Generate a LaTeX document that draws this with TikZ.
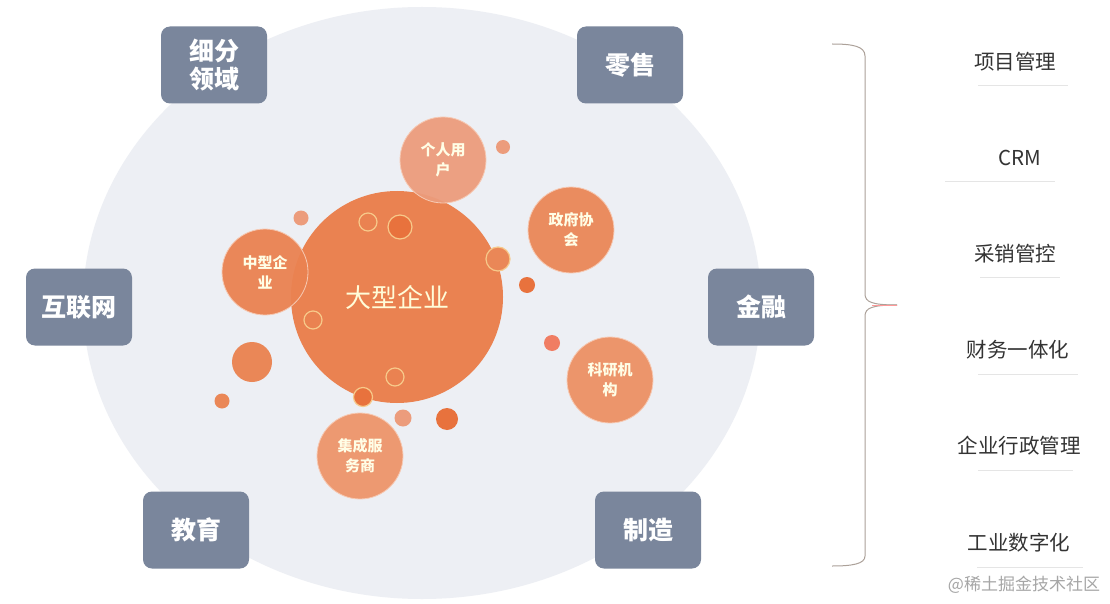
\documentclass[tikz,border=0pt]{standalone}
\usepackage{fontspec}
\setmainfont{Noto Sans CJK SC}
\usetikzlibrary{positioning}
\definecolor{boxgray}{HTML}{7A869C}
\definecolor{bgblue}{HTML}{EDEFF4}
\definecolor{bigorange}{HTML}{EA8251}
\definecolor{midorange}{HTML}{EA8757}
\definecolor{paleorange}{HTML}{EC9C7C}
\definecolor{darkorange}{HTML}{E8723D}
\definecolor{ringyellow}{HTML}{F7C98A}
\definecolor{bracecol}{HTML}{ACA199}
\definecolor{itemtext}{HTML}{333333}
\begin{document}
\begin{tikzpicture}[x=1pt,y=-1pt,
  sector/.style={rectangle, rounded corners=9pt, fill=boxgray, minimum width=106pt, minimum height=77pt, text=white, align=center, font=\bfseries\fontsize{25}{28}\selectfont},
  bubble/.style={circle, draw=white!55!midorange, line width=0.8pt, inner sep=0pt, minimum size=86pt, fill=midorange, fill opacity=0.95, text opacity=1, text=white!90!yellow, align=center, font=\bfseries\fontsize{15}{20}\selectfont},
  dot/.style={circle, inner sep=0pt, fill=midorange},
  ring/.style={circle, inner sep=0pt, fill=bigorange, draw=ringyellow, line width=1.2pt},
  item/.style={text=itemtext, font=\fontsize{20.5}{24}\selectfont},
  itemline/.style={draw=black!10, line width=0.8pt}]
\fill[white] (0,0) rectangle (1110,604);
\useasboundingbox (0,0) rectangle (1110,604);
% background
\fill[bgblue] (422,303) ellipse [x radius=339pt, y radius=296pt];
% sectors
\node[sector] (xifen) at (214,65) {细分\\领域};
\node[sector] (lingshou) at (630,65) {零售};
\node[sector] (hulianwang) at (79,307) {互联网};
\node[sector] (jinrong) at (761,307) {金融};
\node[sector] (jiaoyu) at (196,530) {教育};
\node[sector] (zhizao) at (648,530) {制造};
% bubbles
\node[dot, fill=bigorange, minimum size=212pt, text=white!85!yellow, font=\fontsize{26}{30}\selectfont] (daxing) at (397,297) {大型企业};
\node[bubble, fill=bigorange] (zhongxing) at (265,272) {中型企\\业};
\node[bubble, fill=paleorange] (geren) at (443,160) {个人用\\户};
\node[bubble] (zhengfu) at (571,230) {政府协\\会};
\node[bubble, fill=midorange!92!white] (keyan) at (610,380) {科研机\\构};
\node[bubble, fill=midorange!88!white] (jicheng) at (360,456) {集成服\\务商};
% small dots
\node[dot, minimum size=40pt] (d1) at (252,362) {};
\node[dot, minimum size=15pt] (d2) at (222,401) {};
\node[dot, fill=paleorange, minimum size=15pt] (d3) at (301,218) {};
\node[dot, fill=paleorange, minimum size=14pt] (d4) at (503,147) {};
\node[dot, fill=darkorange, minimum size=16pt] (d5) at (527,285) {};
\node[dot, fill=paleorange!80!red, minimum size=16pt] (d6) at (552,343) {};
\node[dot, fill=paleorange, minimum size=17pt] (d7) at (403,418) {};
\node[dot, fill=darkorange, minimum size=22pt] (d8) at (447,419) {};
% rings
\node[ring, minimum size=18pt] (r1) at (368,222) {};
\node[ring, fill=darkorange, minimum size=24pt] (r2) at (400,227) {};
\node[ring, fill=midorange, minimum size=24pt] (r3) at (498,259) {};
\node[ring, minimum size=18pt] (r4) at (313,320) {};
\node[ring, minimum size=18pt] (r5) at (395,377) {};
\node[ring, fill=darkorange, minimum size=19pt] (r6) at (363,397) {};
% brace
\draw[bracecol, line width=1pt] (832,44) .. controls (852,44) and (865,46) .. (865,56) -- (865,294) .. controls (865,302) and (872,305) .. (897,305);
\draw[bracecol, line width=1pt] (897,305) .. controls (872,305) and (865,308) .. (865,316) -- (865,556) .. controls (865,564) and (852,566) .. (832,566);
\draw[red!40, line width=0.9pt] (872,305) -- (897,305);
% items
\node[item] (p1) at (1015,62) {项目管理};
\node[item] (p2) at (1020,158) {CRM};
\node[item] (p3) at (1015,254) {采销管控};
\node[item] (p4) at (1018,350) {财务一体化};
\node[item] (p5) at (1019,446) {企业行政管理};
\node[item] (p6) at (1019,543) {工业数字化};
\draw[itemline] (978,85) -- (1068,85);
\draw[itemline] (945,181) -- (1055,181);
\draw[itemline] (980,277) -- (1060,277);
\draw[itemline] (978,374) -- (1078,374);
\draw[itemline] (978,470) -- (1073,470);
\draw[itemline] (977,567) -- (1083,567);
% watermark
\node[text=black!35, font=\fontsize{17}{20}\selectfont] (mark) at (1024,585) {@稀土掘金技术社区};
\end{tikzpicture}
\end{document}
